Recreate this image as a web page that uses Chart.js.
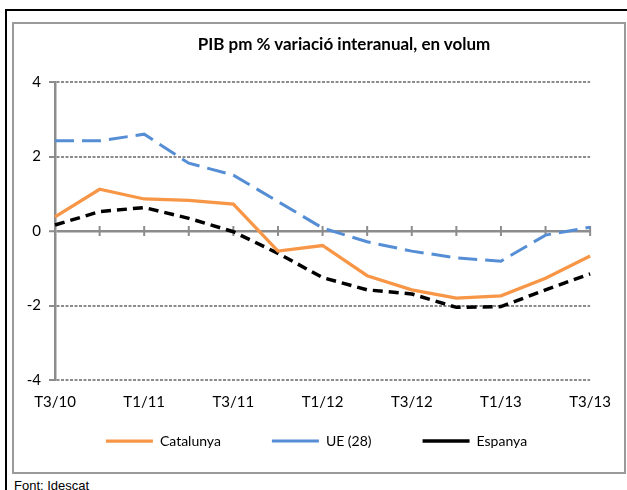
<!DOCTYPE html>
<html lang="ca">
<head>
    <meta charset="UTF-8">
    <title>PIB pm % variació interanual</title>
    <script src="https://cdn.jsdelivr.net/npm/chart.js"></script>
    <style>
        body { margin: 0; background: #fff; overflow: hidden; width: 627px; height: 490px; }
        #outer { position: absolute; left: 5px; top: 9px; width: 700px; height: 600px;
                 border-top: 2px solid #000; border-left: 2px solid #000; }
        #frame { position: absolute; left: 12px; top: 22px; width: 610px; height: 448px;
                 border: 2px solid #9a9a9a; background: #fff; }
        #title { position: absolute; left: 344px; top: 33px; transform: translateX(-50%);
                 white-space: nowrap; font: bold 17px Lato, sans-serif; color: #000; }
        #source { position: absolute; left: 14px; top: 478px; font: 13px "Liberation Sans", Arial, sans-serif; }
    </style>
</head>
<body>
<div id="outer"></div>
<div id="frame"><canvas id="chartCanvas"></canvas></div>
<div id="title">PIB pm % variació interanual, en volum</div>
<div id="source">Font: Idescat</div>

<script>
    // quarters T3/10 .. T3/13, only every second one gets a label
    const quarters = ["T3/10", "T4/10", "T1/11", "T2/11", "T3/11", "T4/11", "T1/12",
                      "T2/12", "T3/12", "T4/12", "T1/13", "T2/13", "T3/13"];
    const catalunya = [0.38, 1.12, 0.86, 0.82, 0.72, -0.54, -0.39, -1.2, -1.58, -1.8, -1.74, -1.27, -0.67];
    const ue28 = [2.42, 2.42, 2.6, 1.82, 1.5, 0.79, 0.08, -0.29, -0.54, -0.72, -0.81, -0.11, 0.1];
    const espanya = [0.16, 0.52, 0.63, 0.34, -0.02, -0.6, -1.25, -1.58, -1.69, -2.05, -2.03, -1.58, -1.15];
    const yTicks = [-4, -2, 0, 2, 4];

    const axisGrey = "#8c8c8c";
    const font = { family: "Lato, sans-serif", size: 14 };
    const tickFont = { family: "Lato, sans-serif", size: 15 };

    // small tick marks across the zero line, one per quarter
    const zeroTicks = {
        id: "zeroTicks",
        beforeDatasetsDraw(chart) {
            const { ctx, scales: { x, y } } = chart;
            const y0 = y.getPixelForValue(0);
            ctx.save();
            ctx.strokeStyle = axisGrey;
            ctx.lineWidth = 2;
            quarters.forEach((q, i) => {
                const px = x.getPixelForValue(i);
                ctx.beginPath();
                ctx.moveTo(px, y0 - 5);
                ctx.lineTo(px, y0 + 5);
                ctx.stroke();
            });
            ctx.restore();
        }
    };

    // the x axis box is squeezed so the legend sits close; widen it again so
    // its labels are not clipped, and nudge the legend a bit to the right
    const fixLayout = {
        id: "fixLayout",
        afterLayout(chart) {
            const x = chart.scales.x;
            x.bottom = x.top + 40;
            chart.legend.left += 11;
            chart.legend.right += 11;
        }
    };

    const ctx = document.getElementById("chartCanvas").getContext("2d");
    new Chart(ctx, {
        type: "line",
        data: {
            labels: quarters,
            datasets: [
                { label: "Catalunya", data: catalunya, borderColor: "#F79646", backgroundColor: "#F79646",
                  borderWidth: 3.25, pointRadius: 0, tension: 0 },
                { label: "UE (28)", data: ue28, borderColor: "#558ED5", backgroundColor: "#558ED5",
                  borderWidth: 3, borderDash: [19, 8], pointRadius: 0, tension: 0 },
                { label: "Espanya", data: espanya, borderColor: "#000000", backgroundColor: "#000000",
                  borderWidth: 3.5, borderDash: [10, 6], pointRadius: 0, tension: 0 }
            ]
        },
        options: {
            responsive: true,
            maintainAspectRatio: false,
            animation: false,
            layout: { padding: { top: 58, right: 27, left: 0, bottom: 14 } },
            plugins: {
                title: { display: false },
                tooltip: { enabled: false },
                legend: {
                    position: "bottom",
                    labels: {
                        usePointStyle: true,
                        pointStyle: "line",
                        pointStyleWidth: 47,
                        padding: 51,
                        color: "#000",
                        font: font
                    }
                }
            },
            scales: {
                x: {
                    offset: false,
                    afterFit(scale) { scale.height = 3; },
                    grid: { display: false, drawTicks: false },
                    border: { display: false },
                    ticks: {
                        autoSkip: false,
                        maxRotation: 0,
                        padding: 13,
                        color: "#000",
                        font: tickFont,
                        callback: (v, i) => (i % 2 === 0 ? quarters[i] : "")
                    }
                },
                y: {
                    min: -4,
                    max: 4,
                    afterFit(scale) { scale.width = 41; },
                    afterBuildTicks(scale) { scale.ticks = yTicks.map(v => ({ value: v })); },
                    grid: {
                        color: axisGrey,
                        lineWidth: c => (c.tick && c.tick.value === 0 ? 2.5 : 2),
                        tickLength: 6,
                        tickColor: axisGrey,
                        tickWidth: 2
                    },
                    border: {
                        display: true,
                        color: axisGrey,
                        width: 2.5,
                        dash: c => (c.tick && c.tick.value !== 0 ? [3, 1.5] : [])
                    },
                    ticks: { padding: 8, color: "#000", font: tickFont }
                }
            }
        },
        plugins: [zeroTicks, fixLayout]
    });
</script>
</body>
</html>
